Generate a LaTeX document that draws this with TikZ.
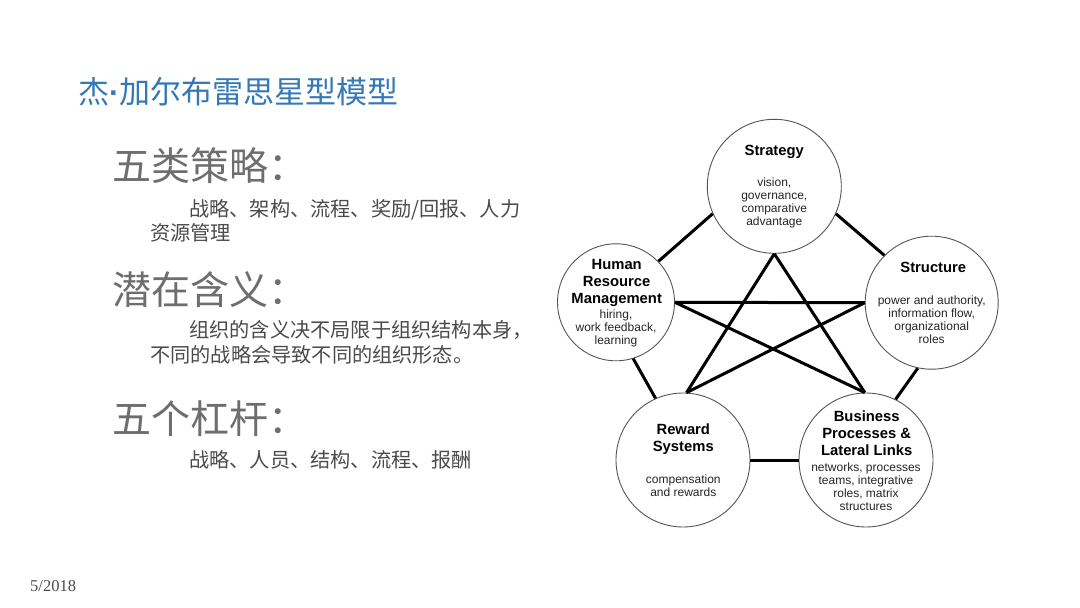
\documentclass[tikz,border=0pt]{standalone}
\usepackage{fontspec}
\setmainfont{Liberation Sans}
\newfontfamily\cjk{Noto Sans CJK SC}
\newfontfamily\datefont{Liberation Serif}
\definecolor{titleblue}{RGB}{52,120,180}
\definecolor{headgray}{RGB}{110,110,110}
\definecolor{bodygray}{RGB}{75,75,75}
\definecolor{circlegray}{RGB}{85,85,85}
\begin{document}
\begin{tikzpicture}[x=1pt,y=-1pt,
  circ/.style={circle, draw=circlegray, line width=0.9pt, inner sep=0pt, minimum size=#1},
  link/.style={line width=3pt, black},
  head/.style={font=\fontsize{14.8}{17}\selectfont\bfseries, align=center, inner sep=0pt},
  small/.style={font=\fontsize{12}{13}\selectfont, align=center, text=black!85, inner sep=0pt},
  cjktitle/.style={anchor=west, inner sep=0pt, text=titleblue, font=\cjk\fontsize{31}{33}\selectfont},
  cjkhead/.style={anchor=west, inner sep=0pt, text=headgray, font=\cjk\fontsize{39}{41}\selectfont},
  cjkbody/.style={anchor=west, inner sep=0pt, text=bodygray, font=\cjk\fontsize{20.2}{23}\selectfont}]
\useasboundingbox (0,0) rectangle (1080,608);
\fill[white] (0,0) rectangle (1080,608);

% left text
\node[cjktitle] (title) at (78,92) {杰{\rmfamily\bfseries ·}加尔布雷思星型模型};
\node[cjkhead] (h1) at (112,166) {五类策略：};
\node[cjkbody] (b1a) at (189,210) {战略、架构、流程、奖励/回报、人力};
\node[cjkbody] (b1b) at (150,233) {资源管理};
\node[cjkhead] (h2) at (112,290) {潜在含义：};
\node[cjkbody] (b2a) at (189,330) {组织的含义决不局限于组织结构本身，};
\node[cjkbody] (b2b) at (150,355) {不同的战略会导致不同的组织形态。};
\node[cjkhead] (h3) at (112,419) {五个杠杆：};
\node[cjkbody] (b3) at (189,460) {战略、人员、结构、流程、报酬};
\node[anchor=west, inner sep=0pt, text=bodygray, font=\datefont\fontsize{16.5}{18}\selectfont] (date) at (30,586) {5/2018};

% circles
\node[circ=134pt] (s) at (774.3,186.3) {};
\node[circ=133pt] (st) at (931.7,302.7) {};
\node[circ=117pt] (h) at (616,302.3) {};
\node[circ=134pt] (r) at (683,460) {};
\node[circ=134pt] (b) at (866,460) {};

% outer links
\draw[link] (s.204) -- (h.44);
\draw[link] (s.336) -- (st.135);
\draw[link] (h.287) -- (r.114);
\draw[link] (st.258) -- (b.64);
\draw[link] (r.0) -- (b.180);
% star
\draw[link] (s.270) -- (r.87);
\draw[link] (s.270) -- (b.91);
\draw[link] (h.0) -- (st.180);
\draw[link] (h.0) -- (b.91);
\draw[link] (st.180) -- (r.87);

% circle texts
\node[head] (sH) at (774.3,152.3) {Strategy};
\node[small] (sT) at (774.3,202.4) {vision,\\governance,\\comparative\\advantage};
\node[head] (stH) at (933.3,267.3) {Structure};
\node[small] (stT) at (931.7,319.7) {power and authority,\\information flow,\\organizational\\roles};
\node[head] (hH) at (616.7,282.5) {Human\\Resource\\Management};
\node[small] (hT) at (616,328) {hiring,\\work feedback,\\learning};
\node[head] (rH) at (683.3,439.2) {Reward\\Systems};
\node[small] (rT) at (683.3,485.5) {compensation\\and rewards};
\node[head] (bH) at (866.7,433.7) {Business\\Processes \&\\Lateral Links};
\node[small] (bT) at (866,486.3) {networks, processes\\teams, integrative\\roles, matrix\\structures};
\end{tikzpicture}
\end{document}
